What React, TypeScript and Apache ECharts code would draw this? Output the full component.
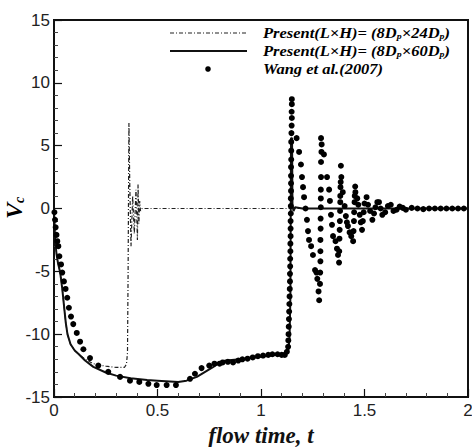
import React, { useEffect, useRef } from "react";
import * as echarts from "echarts";

// ---- data (t, Vc) ----
const xTicks = [0, 0.5, 1, 1.5, 2];
const yTicks = [-15, -10, -5, 0, 5, 10, 15];

const seriesNames = [
  "Present(L×H)= (8Dp×24Dp)",
  "Present(L×H)= (8Dp×60Dp)",
  "Wang et al.(2007)",
];

const present24: [number, number][] = [
  [0, 0], [0.005, -2.4], [0.012, -3.6], [0.02, -4.4], [0.03, -5.1], [0.04, -6.4],
  [0.05, -8.0], [0.057, -9.1], [0.065, -10.0], [0.08, -10.8], [0.1, -11.3],
  [0.12, -11.6], [0.15, -12.0], [0.19, -12.35], [0.25, -12.55], [0.3, -12.65],
  [0.34, -12.65], [0.35, -12.4], [0.355, -11.5], [0.358, -5], [0.362, 6.8],
  [0.366, 2], [0.372, -3], [0.38, 1], [0.388, -2], [0.396, 1.5], [0.403, -2.5],
  [0.406, 1.9], [0.41, -1.2], [0.414, 0.6], [0.418, -0.2], [0.425, 0],
  [0.6, 0], [0.8, 0], [1.0, 0], [1.2, 0], [1.4, 0], [1.6, 0], [1.8, 0], [2, 0],
];

const present60: [number, number][] = [
  [0, 0], [0.005, -2.4], [0.012, -3.6], [0.02, -4.4], [0.03, -5.1], [0.04, -6.4],
  [0.05, -8.0], [0.057, -9.1], [0.065, -10.0], [0.08, -10.8], [0.1, -11.3],
  [0.12, -11.6], [0.15, -12.1], [0.19, -12.6], [0.25, -13.05], [0.3, -13.3],
  [0.37, -13.5], [0.45, -13.65], [0.5, -13.7], [0.6, -13.8], [0.64, -13.7],
  [0.69, -13.4], [0.73, -13.0], [0.77, -12.6], [0.8, -12.25], [0.83, -12.1],
  [0.9, -12.0], [0.95, -11.9], [1.0, -11.8], [1.05, -11.7], [1.1, -11.6],
  [1.125, -11.5], [1.133, -11.2], [1.138, -10.2], [1.142, -7], [1.145, 5.6],
  [1.15, 5.6], [1.152, 0.3], [1.157, -0.2], [1.165, 0.1], [1.2, 0], [1.4, 0],
  [1.6, 0], [1.8, 0], [2, 0],
];

const wang2007: [number, number][] = [
  [0.002, -0.3], [0.005, -0.9], [0.008, -1.5], [0.012, -2.1], [0.016, -2.6],
  [0.021, -3.0], [0.026, -3.8], [0.034, -4.45], [0.04, -5.1], [0.048, -5.8],
  [0.056, -6.4], [0.064, -7.1], [0.072, -7.9], [0.082, -8.6], [0.093, -9.2],
  [0.11, -9.9], [0.126, -10.6], [0.142, -11.2], [0.174, -11.9], [0.214, -12.5],
  [0.262, -13.0], [0.319, -13.4], [0.367, -13.7], [0.412, -13.8], [0.456, -13.95],
  [0.496, -14.05], [0.544, -14.05], [0.589, -14.05], [0.657, -13.55],
  [0.681, -13.15], [0.713, -12.7], [0.75, -12.5], [0.775, -12.35], [0.8, -12.35],
  [0.815, -12.25], [0.84, -12.2], [0.865, -12.25], [0.89, -12.1], [0.91, -12.0],
  [0.935, -11.95], [0.96, -11.85], [0.985, -11.75], [1.01, -11.7], [1.035, -11.65],
  [1.055, -11.6], [1.08, -11.6], [1.1, -11.65], [1.115, -11.65], [1.125, -11.4],
  [1.131, -11.0], [1.132, -10.5], [1.133, -10.0], [1.134, -9.4], [1.135, -8.8],
  [1.136, -8.2], [1.137, -7.6], [1.138, -7.0], [1.139, -6.4], [1.14, -5.8],
  [1.14, -5.2], [1.141, -4.6], [1.141, -4.0], [1.142, -3.4], [1.142, -2.8],
  [1.143, -2.2], [1.143, -1.6], [1.143, -1.0], [1.144, -0.4], [1.144, 0.2],
  [1.144, 0.8], [1.145, 1.4], [1.145, 2.0], [1.145, 2.6], [1.145, 3.3],
  [1.146, 3.9], [1.146, 4.6], [1.146, 5.3], [1.147, 6.0], [1.148, 6.6],
  [1.149, 7.2], [1.148, 7.7], [1.149, 8.3], [1.149, 8.7],
  [1.172, 5.6], [1.184, 4.5], [1.193, 3.5], [1.198, 2.5], [1.203, 1.7],
  [1.208, 0.9], [1.215, 0.0], [1.222, -0.9], [1.227, -1.8], [1.232, -2.5],
  [1.242, -3.0], [1.251, -3.7], [1.261, -4.9], [1.268, -5.1], [1.272, -5.6],
  [1.278, -6.6], [1.281, -7.3],
  [1.285, -6.0], [1.286, -5.1], [1.287, -4.2], [1.287, -3.4], [1.287, -2.5],
  [1.288, -1.6], [1.288, -0.8], [1.289, 0.1], [1.289, 0.8], [1.289, 1.5],
  [1.29, 2.5], [1.29, 3.7], [1.292, 4.5], [1.293, 5.1], [1.29, 5.6],
  [1.304, 4.3], [1.319, 2.5], [1.329, 1.5], [1.333, 0.6], [1.338, -0.5],
  [1.343, -1.3], [1.348, -2.2], [1.36, -2.6], [1.367, -3.2], [1.372, -3.7],
  [1.377, -4.3],
  [1.378, -3.4], [1.379, -2.4], [1.38, -1.7], [1.381, -1.0], [1.382, -0.2],
  [1.383, 0.5], [1.383, 1.0], [1.384, 1.7], [1.385, 2.1], [1.388, 2.5], [1.386, 3.4],
  [1.395, 1.3], [1.404, 0.2], [1.41, -0.6], [1.415, -1.1], [1.42, -1.4],
  [1.428, -1.9], [1.436, -2.2], [1.445, -2.6],
  [1.447, -1.8], [1.449, -1.0], [1.45, -0.3], [1.452, 0.5], [1.453, 1.0],
  [1.456, 1.3], [1.455, 1.75],
  [1.465, 0.8], [1.47, 0.3], [1.477, -0.5], [1.482, -1.1], [1.488, -1.7],
  [1.492, -1.0], [1.496, -0.3], [1.5, 0.4], [1.51, 0.9],
  [1.517, 0.3], [1.527, -0.2], [1.538, -0.9],
  [1.546, -0.4], [1.553, 0.1], [1.562, 0.5], [1.57, 0.5],
  [1.578, 0.0], [1.586, -0.5], [1.6, -0.3], [1.613, 0.2], [1.627, 0.3],
  [1.64, -0.2], [1.655, -0.1], [1.67, 0.15], [1.685, 0.05], [1.7, -0.1],
  [1.728, 0.05], [1.756, 0.0], [1.784, -0.05], [1.812, 0.0], [1.84, 0.0],
  [1.868, 0.0], [1.896, 0.0], [1.924, 0.0], [1.952, 0.0], [1.98, 0.0],
];

const SERIF = '"Liberation Serif", "Times New Roman", serif';
const SANS = '"Liberation Sans", Arial, sans-serif';

const legendRich = {
  b: { fontFamily: SERIF, fontWeight: "bold", fontStyle: "italic", fontSize: 15, color: "#111", lineHeight: 15 },
  s: { fontFamily: SERIF, fontWeight: "bold", fontStyle: "italic", fontSize: 9, color: "#111", lineHeight: 9, padding: [7, 0, 0, 0] },
};

function legendText(name: string): string {
  // turn "Dp" into D with subscript p
  const parts = name.split("Dp");
  return parts.map((p, i) => (i < parts.length - 1 ? `{b|${p}D}{s|p}` : `{b|${p}}`)).join("");
}

export default function App() {
  const ref = useRef<HTMLDivElement>(null);
  useEffect(() => {
    document.body.style.margin = "0";
    const chart = echarts.init(ref.current!, undefined, { renderer: "svg" });
    const axisCommon = {
      axisLine: { show: true, onZero: false, lineStyle: { color: "#111", width: 2 } },
      axisTick: { show: true, inside: true, length: 8, lineStyle: { color: "#111", width: 1.2 } },
      minorTick: { show: true, splitNumber: 5, length: 4, lineStyle: { color: "#444", width: 1 } },
      splitLine: { show: false },
      axisLabel: { color: "#222", fontFamily: SANS, fontSize: 17, margin: 5 },
    };
    const legendRows = [33, 51, 69];
    chart.setOption({
      animation: false,
      backgroundColor: "#fff",
      grid: {
        left: 54, right: 4, top: 20, bottom: 50,
        show: true, borderColor: "#111", borderWidth: 2,
        outerBoundsMode: "none", containLabel: false,
      },
      xAxis: {
        type: "value", min: xTicks[0], max: xTicks[xTicks.length - 1], interval: 0.5,
        ...axisCommon,
        axisLabel: { ...axisCommon.axisLabel, formatter: (v: number) => String(v) },
        name: "flow time, t", nameLocation: "middle", nameGap: 20,
        nameTextStyle: { fontFamily: SERIF, fontWeight: "bold", fontStyle: "italic", fontSize: 23, color: "#111" },
      },
      yAxis: {
        type: "value", min: yTicks[0], max: yTicks[yTicks.length - 1], interval: 5,
        ...axisCommon,
        axisLabel: { ...axisCommon.axisLabel, margin: 4 },
      },
      series: [
        {
          name: seriesNames[0], type: "line", data: present24, showSymbol: false,
          lineStyle: { color: "#222", width: 1.2, type: [4, 2, 1, 2] }, z: 3,
        },
        {
          name: seriesNames[1], type: "line", data: present60, showSymbol: false,
          lineStyle: { color: "#111", width: 2 }, z: 4,
        },
        {
          name: seriesNames[2], type: "scatter", data: wang2007, symbol: "circle",
          symbolSize: 6, itemStyle: { color: "#000", opacity: 1 }, z: 5,
        },
      ],
      graphic: [
        {
          type: "text", x: 14, y: 208, rotation: Math.PI / 2,
          style: {
            text: "{v|V}{c|c}", align: "center", verticalAlign: "middle",
            rich: {
              v: { fontFamily: SERIF, fontWeight: "bold", fontStyle: "italic", fontSize: 24, color: "#111" },
              c: { fontFamily: SERIF, fontWeight: "bold", fontStyle: "italic", fontSize: 14, color: "#111", padding: [11, 0, 0, 0] },
            },
          },
        },
        { type: "line", shape: { x1: 170, y1: legendRows[0], x2: 247, y2: legendRows[0] }, style: { stroke: "#222", lineWidth: 1.2, lineDash: [4, 2, 1, 2] } },
        { type: "line", shape: { x1: 170, y1: legendRows[1], x2: 247, y2: legendRows[1] }, style: { stroke: "#111", lineWidth: 2 } },
        { type: "circle", shape: { cx: 208, cy: legendRows[2], r: 2.8 }, style: { fill: "#000" } },
        ...seriesNames.map((n, i) => ({
          type: "text", x: 263, y: legendRows[i], scaleX: 1.1,
          style: { text: legendText(n), verticalAlign: "middle", rich: legendRich },
        })),
      ],
    });
    return () => chart.dispose();
  }, []);
  return <div ref={ref} style={{ width: 472, height: 447 }} />;
}
